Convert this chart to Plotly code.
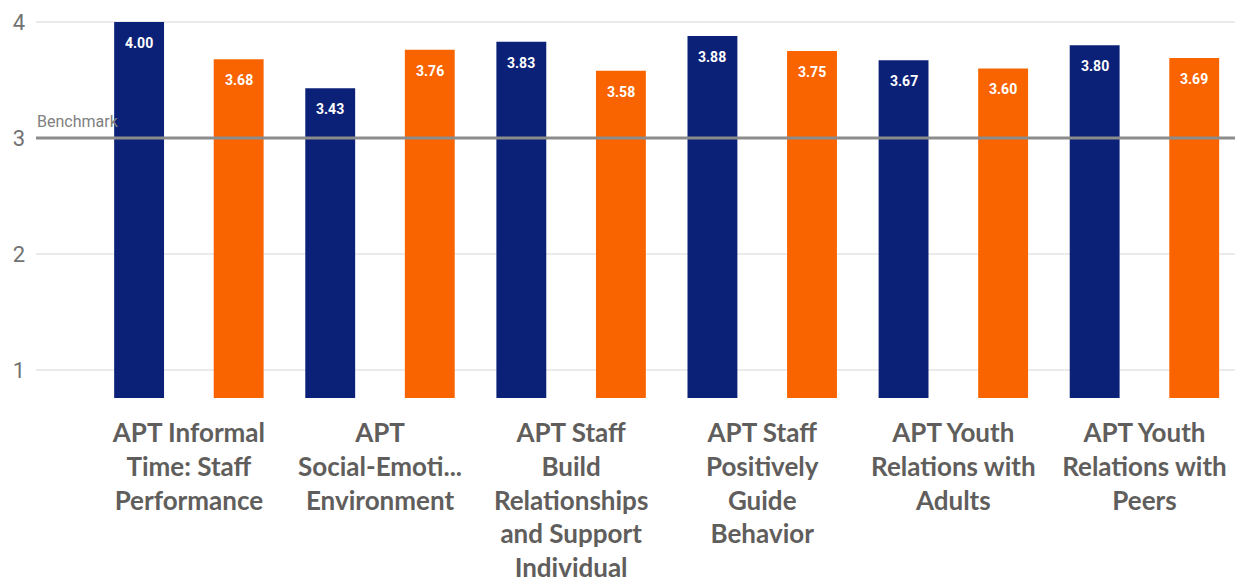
import plotly.graph_objects as go

categories = [
    "APT Informal<br>Time: Staff<br>Performance",
    "APT<br>Social-Emoti...<br>Environment",
    "APT Staff<br>Build<br>Relationships<br>and Support<br>Individual",
    "APT Staff<br>Positively<br>Guide<br>Behavior",
    "APT Youth<br>Relations with<br>Adults",
    "APT Youth<br>Relations with<br>Peers",
]
series_a = [4.00, 3.43, 3.83, 3.88, 3.67, 3.80]
series_b = [3.68, 3.76, 3.58, 3.75, 3.60, 3.69]
benchmark = 3
y_ticks = [1, 2, 3, 4]

NAVY = "#0b2177"
ORANGE = "#f96400"
BW = 0.261
OFF_A = -0.391
OFF_B = 0.130

x = list(range(len(categories)))

fig = go.Figure()
fig.add_trace(go.Bar(x=x, y=series_a, width=BW, offset=OFF_A,
                     marker=dict(color=NAVY, line=dict(width=0)), name="A"))
fig.add_trace(go.Bar(x=x, y=series_b, width=BW, offset=OFF_B,
                     marker=dict(color=ORANGE, line=dict(width=0)), name="B"))

annotations = []
for i, v in enumerate(series_a):
    annotations.append(dict(x=i + OFF_A + BW / 2, y=v, xref="x", yref="y",
                            text=f"{v:.2f}", showarrow=False, yshift=-21,
                            font=dict(family="Roboto", size=14, color="white", weight="bold")))
for i, v in enumerate(series_b):
    annotations.append(dict(x=i + OFF_B + BW / 2, y=v, xref="x", yref="y",
                            text=f"{v:.2f}", showarrow=False, yshift=-21,
                            font=dict(family="Roboto", size=14, color="white", weight="bold")))
annotations.append(dict(x=0, xref="paper", y=benchmark, yref="y", text="Benchmark",
                        showarrow=False, xanchor="left", yanchor="bottom", yshift=5, xshift=-1,
                        font=dict(family="Roboto", size=16, color="#808080")))

fig.add_shape(type="line", xref="paper", x0=0, x1=1, yref="y", y0=benchmark, y1=benchmark,
              line=dict(color="#8c8c8c", width=3), layer="above")

fig.update_layout(
    width=1235, height=578,
    margin=dict(l=28, r=3, t=0, b=188, autoexpand=False),
    paper_bgcolor="white", plot_bgcolor="white",
    showlegend=False,
    barmode="overlay",
    annotations=annotations,
    xaxis=dict(range=[-0.80, 5.50], tickmode="array", tickvals=x, ticktext=categories,
               showgrid=False, zeroline=False, showline=False, ticks="", automargin=False,
               ticklabelstandoff=17,
               tickfont=dict(family="Lato", size=26, color="#5f5e5c", weight="bold")),
    yaxis=dict(range=[0.759, 4.1207], tickvals=y_ticks, showgrid=True, gridcolor="#ebebeb",
               gridwidth=1.5, zeroline=False, showline=False, ticks="", automargin=False,
               ticklabelstandoff=10,
               tickfont=dict(family="Roboto", size=22, color="#727272")),
)

fig.write_html("out.html")
